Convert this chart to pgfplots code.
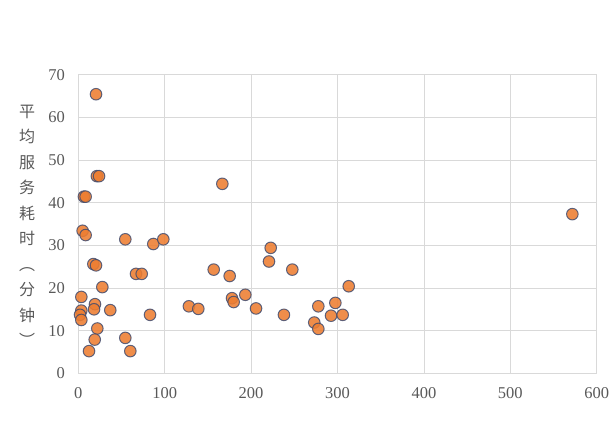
\documentclass[border=0pt]{standalone}
\usepackage{pgfplots}
\pgfplotsset{compat=1.18}
\usepackage{fontspec}
\setmainfont{Liberation Serif}
\newfontfamily\cjk{Noto Sans CJK SC}
\definecolor{ptfill}{RGB}{237,125,49}
\definecolor{ptedge}{RGB}{58,72,110}
\definecolor{gridc}{RGB}{217,217,217}
\definecolor{txt}{RGB}{89,89,89}
\begin{document}
\begin{tikzpicture}[x=1bp,y=1bp]
\useasboundingbox (0,0) rectangle (609,430);
\begin{axis}[
  at={(78.3bp,56.7bp)}, anchor=south west,
  scale only axis, width=518.4bp, height=298.7bp,
  xmin=0, xmax=600, ymin=0, ymax=70,
  xtick={0,100,...,600}, ytick={0,10,...,70},
  grid=major,
  major grid style={draw=gridc, line width=0.8bp},
  axis line style={draw=gridc, line width=0.8bp},
  major tick length=0pt,
  tick label style={font=\fontsize{16.5bp}{18bp}\selectfont, text=txt},
  /pgf/number format/assume math mode=true,
  xticklabel style={yshift=-11bp},
  yticklabel style={xshift=-10bp},
  clip=false,
]
\addplot[only marks, mark=*, mark size=5.8bp,
  mark options={fill=ptfill, fill opacity=0.88, draw=ptedge, draw opacity=0.8, line width=1bp}]
coordinates {
(20.5,65.4)
(21.5,46.2) (24,46.2)
(6.5,41.4) (8.5,41.4)
(5,33.4)
(8.5,32.4)
(54.4,31.4)
(86.8,30.3)
(98.4,31.4)
(166.7,44.4)
(17.4,25.6) (20.5,25.3)
(66.8,23.3) (73.4,23.3)
(27.8,20.2)
(3.5,17.9)
(19.3,16.2)
(18.2,15.0)
(3.5,14.7) (2,13.7) (3.5,12.5)
(37,14.8)
(83,13.7)
(22,10.5)
(19,7.9)
(12.4,5.2)
(54.4,8.3)
(60.2,5.2)
(128,15.7)
(138.9,15.1)
(156.7,24.3)
(175.2,22.8)
(177.9,17.6) (179.8,16.7)
(193.3,18.4)
(205.7,15.2)
(222.7,29.4)
(220.7,26.2)
(247.7,24.3)
(238,13.7)
(277.8,15.7)
(273.1,11.9) (277.8,10.4)
(297.5,16.5)
(292.5,13.5)
(306,13.7)
(313,20.4)
(571.8,37.3)
};
\end{axis}
\node[text=txt, align=center, font=\cjk\fontsize{16bp}{25.5bp}\selectfont] at (27,204)
 {平\\均\\服\\务\\耗\\时\\︵\\分\\钟\\︶};
\end{tikzpicture}
\end{document}
